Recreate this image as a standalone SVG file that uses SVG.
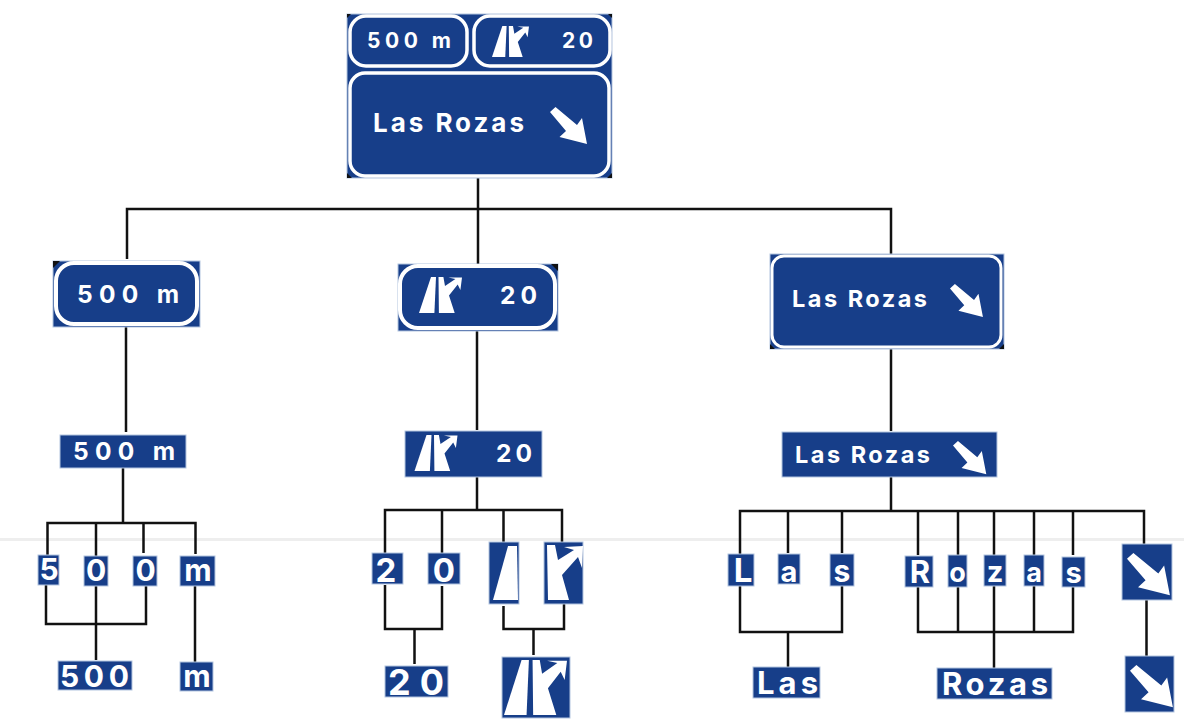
<svg xmlns="http://www.w3.org/2000/svg" width="1184" height="722" viewBox="0 0 1184 722">
<style>
.b{fill:#173e89;stroke:#b4c5e0;stroke-width:1}
.o{fill:none;stroke:#fff;stroke-width:3.5}
.k{fill:#111}
.w{fill:#fff}
.t{fill:#fff;font-family:Inter,"Liberation Sans",sans-serif;font-weight:700}
.m{text-anchor:middle}
.c{fill:none;stroke:#111;stroke-width:2.5}
</style>
<defs>
<polygon id="arr" points="0,5 5.500,0 27,18 32,11 37,37 9.500,30 16,24" fill="#fff"/>
<g id="ramp" fill="#fff">
<polygon points="12,0 17,0 15.400,36 0,36"/>
<polygon points="19.500,0 24.400,0 26,9 36.400,2 29.400,0.500 43,0.500 41.400,13 38.700,7.600 30,18.500 35.700,36 19.900,36"/>
</g>
</defs>
<rect x="0" y="538" width="1184" height="3" fill="#eeeeee"/>
<g id="connectors" class="c">
<path d="M478 178V264M127 259V209H891V254"/>
<path d="M126 327V432M477 331V430M891 349V431"/>
<path d="M123 468V523M47.500 555V523H195.500V554M96 523V556M143.500 523V553"/>
<path d="M46 585V624H146V586M96 586V660M195 586V662"/>
<path d="M477 477V510M385 553V510H562V542M442 510V553M503.500 510V542"/>
<path d="M385 585V629H442V586M414.500 629V664M503.500 606V629H564V604M533.500 629V655"/>
<path d="M891 477V511M740 554V511H1144V544M788 511V553M842 511V553M918 511V555M958 511V555M994 511V555M1034 511V555M1073 511V555"/>
<path d="M740 586V632H842V586M788 632V667M918 586V632H1073V587M958 587V632M994 586V668M1034 586V632M1146.500 600V656"/>
</g>
<g id="top">
<rect x="347" y="14" width="265" height="164" class="b"/>
<path class="k" d="M347 14h4l-4 4zM612 14h-4l4 4zM347 178h5l-5-5zM612 178h-5l5-5z"/>
<rect x="350" y="16" width="117" height="50" rx="16" class="o"/>
<rect x="474" y="16" width="136" height="50" rx="16" class="o"/>
<rect x="350" y="73" width="259" height="103" rx="15" class="o"/>
<text x="367" y="48" font-size="21" class="t" textLength="84">500 m</text>
<use href="#ramp" transform="translate(492,26) scale(.86)"/>
<text x="562" y="48" font-size="21" class="t" textLength="31">20</text>
<text x="373" y="132" font-size="26" class="t" textLength="151">Las Rozas</text>
<use href="#arr" transform="translate(550,107)"/>
</g>
<g id="n500m">
<rect x="53" y="261" width="147" height="66" class="b"/>
<path class="k" d="M53 261h7l-7 7z"/>
<rect x="56" y="263" width="141" height="61" rx="18" class="o" style="stroke-width:4"/>
<text x="77" y="303" font-size="24.500" class="t" textLength="102">500 m</text>
</g>
<g id="nramp20">
<rect x="398" y="264" width="160" height="67" class="b"/>
<path class="k" d="M558 264h-7l7 7z"/>
<rect x="400" y="266" width="155" height="62" rx="18" class="o" style="stroke-width:4"/>
<use href="#ramp" transform="translate(419,277)"/>
<text x="500" y="304" font-size="24.500" class="t" textLength="37">20</text>
</g>
<g id="nlas">
<rect x="770" y="254" width="234" height="95" class="b"/>
<path class="k" d="M770 349h5l-5-5zM1004 349h-5l5-5z"/>
<rect x="772" y="256" width="229" height="91" rx="12" class="o" style="stroke-width:3"/>
<text x="792" y="307" font-size="23.500" class="t" textLength="135">Las Rozas</text>
<use href="#arr" transform="translate(950,284) scale(.89)"/>
</g>
<g id="m500"><rect x="60" y="435" width="126" height="33" class="b"/><text x="73" y="460" font-size="24.500" class="t" textLength="102">500 m</text></g>
<g id="mramp"><rect x="405" y="431" width="137" height="46" class="b"/><use href="#ramp" transform="translate(414.500,435)"/><text x="496" y="462" font-size="24.500" class="t" textLength="36">20</text></g>
<g id="mlas"><rect x="782" y="432" width="215" height="45" class="b"/><text x="795" y="463" font-size="23.500" class="t" textLength="135">Las Rozas</text><use href="#arr" transform="translate(953,441) scale(.9)"/></g>
<g id="c5"><rect x="38" y="555" width="21" height="30" class="b"/><text x="49" y="580" font-size="30" class="t m">5</text></g>
<g id="c0a"><rect x="84" y="556" width="24" height="30" class="b"/><text x="96" y="581" font-size="30" class="t m">0</text></g>
<g id="c0b"><rect x="133" y="556" width="24" height="30" class="b"/><text x="145.500" y="581" font-size="30" class="t m">0</text></g>
<g id="cm"><rect x="180" y="556" width="35" height="30" class="b"/><text x="198" y="581" font-size="30" class="t m">m</text></g>
<g id="w500"><rect x="58" y="661" width="74" height="29" class="b"/><text x="60" y="687" font-size="30" class="t" textLength="69">500</text></g>
<g id="wm"><rect x="180" y="662" width="33" height="29" class="b"/><text x="197" y="687" font-size="30" class="t m">m</text></g>
<g id="c2"><rect x="372" y="553" width="31" height="31" class="b"/><text x="386" y="582" font-size="33" class="t m">2</text></g>
<g id="c0c"><rect x="428" y="553" width="32" height="31" class="b"/><text x="444" y="582" font-size="33" class="t m">0</text></g>
<g id="cl1"><rect x="489" y="542" width="30" height="62" class="b"/><polygon points="508,546 517,546 518,600 493,600" class="w"/></g>
<g id="cl2"><rect x="544" y="542" width="39" height="62" class="b"/><polygon points="547,545 555,545 558,560 574,550 564,547 583,546 582,568 578,557 562,575 569,600 548,600" class="w"/></g>
<g id="w20"><rect x="385" y="666" width="63" height="31" class="b"/><text x="388" y="695" font-size="36" class="t" textLength="56">20</text></g>
<g id="wramp"><rect x="502" y="657" width="68" height="61" class="b"/><use href="#ramp" transform="translate(504,660) scale(1.465,1.53)"/></g>
<g id="cL"><rect x="728" y="554" width="26" height="32" class="b"/><text x="743" y="582" font-size="33" class="t m">L</text></g>
<g id="ca"><rect x="778" y="554" width="22" height="30" class="b"/><text x="789" y="582" font-size="29" class="t m">a</text></g>
<g id="cs"><rect x="830" y="554" width="24" height="32" class="b"/><text x="842" y="582" font-size="30" class="t m">s</text></g>
<g id="cR"><rect x="905" y="556" width="28" height="31" class="b"/><text x="920" y="583" font-size="31" class="t m">R</text></g>
<g id="co"><rect x="948" y="555" width="19" height="32" class="b"/><text x="957.500" y="582" font-size="27" class="t m">o</text></g>
<g id="cz"><rect x="984" y="555" width="22" height="31" class="b"/><text x="995" y="582" font-size="29" class="t m">z</text></g>
<g id="ca2"><rect x="1024" y="555" width="20" height="31" class="b"/><text x="1034" y="582" font-size="27" class="t m">a</text></g>
<g id="cs2"><rect x="1062" y="557" width="23" height="30" class="b"/><text x="1073.500" y="583" font-size="29" class="t m">s</text></g>
<g id="carr"><rect x="1122" y="544" width="50" height="56" class="b"/><use href="#arr" transform="translate(1127,553) scale(1.16,1.14)"/></g>
<g id="wLas"><rect x="753" y="667" width="67" height="31" class="b"/><text x="757" y="694" font-size="31" class="t" textLength="61">Las</text></g>
<g id="wRozas"><rect x="937" y="668" width="115" height="31" class="b"/><text x="942" y="695" font-size="31" class="t" textLength="106">Rozas</text></g>
<g id="warr"><rect x="1125" y="656" width="49" height="56" class="b"/><use href="#arr" transform="translate(1130,665) scale(1.16,1.14)"/></g>
</svg>
